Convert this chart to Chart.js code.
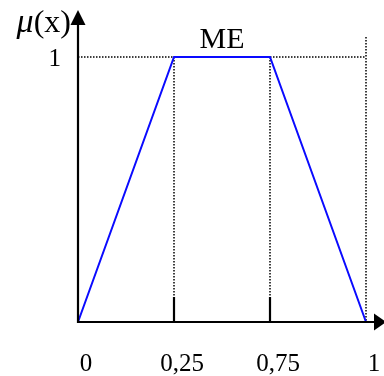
<!DOCTYPE html>
<html>
<head>
<meta charset="utf-8">
<script src="https://cdn.jsdelivr.net/npm/chart.js@4"></script>
<style>
  html, body { margin: 0; padding: 0; background: #ffffff; }
  #wrap { width: 384px; height: 376px; position: relative; }
</style>
</head>
<body>
<div id="wrap"><canvas id="c" width="384" height="376"></canvas></div>
<script>
// Trapezoidal membership function "ME"
const categories = ['0', '0,25', '0,75', '1'];
const membership = [0, 1, 1, 0];
const yTickLabels = ['1'];
const setName = 'ME';

const SERIF = '"Liberation Serif", "Times New Roman", serif';

const decor = {
  id: 'decor',
  beforeDatasetsDraw(chart) {
    const ctx = chart.ctx;
    const xs = chart.scales.x, ys = chart.scales.y;
    const x0 = xs.getPixelForValue(0);
    const xEnd = xs.getPixelForValue(categories.length - 1);
    const yOne = ys.getPixelForValue(1);
    const yZero = ys.getPixelForValue(0);
    ctx.save();
    ctx.strokeStyle = '#000';
    ctx.lineWidth = 1.5;
    ctx.setLineDash([1.5, 1.5]);
    // horizontal guide at μ = 1
    ctx.beginPath();
    ctx.moveTo(x0, yOne);
    ctx.lineTo(xEnd, yOne);
    ctx.stroke();
    // vertical guides at the plateau corners
    for (let i = 1; i < categories.length - 1; i++) {
      const px = xs.getPixelForValue(i);
      ctx.beginPath();
      ctx.moveTo(px, yOne);
      ctx.lineTo(px, yZero - 25);
      ctx.stroke();
    }
    // vertical guide at the right end
    ctx.beginPath();
    ctx.moveTo(xEnd, yOne - 20);
    ctx.lineTo(xEnd, yZero);
    ctx.stroke();
    ctx.restore();
  },
  afterDatasetsDraw(chart) {
    const ctx = chart.ctx;
    const xs = chart.scales.x, ys = chart.scales.y;
    const x0 = xs.getPixelForValue(0);
    const yZero = ys.getPixelForValue(0);
    const yOne = ys.getPixelForValue(1);
    ctx.save();
    ctx.strokeStyle = '#000';
    ctx.fillStyle = '#000';
    ctx.lineWidth = 2.2;
    ctx.setLineDash([]);
    // y axis with arrow
    ctx.beginPath();
    ctx.moveTo(x0, yZero + 1);
    ctx.lineTo(x0, 22);
    ctx.stroke();
    ctx.beginPath();
    ctx.moveTo(x0, 10);
    ctx.lineTo(x0 - 7.5, 25);
    ctx.lineTo(x0 + 7.5, 25);
    ctx.closePath();
    ctx.fill();
    // x axis with arrow
    ctx.beginPath();
    ctx.moveTo(x0 - 1, yZero);
    ctx.lineTo(376, yZero);
    ctx.stroke();
    ctx.beginPath();
    ctx.moveTo(386, yZero);
    ctx.lineTo(374, yZero - 8.5);
    ctx.lineTo(374, yZero + 8.5);
    ctx.closePath();
    ctx.fill();
    // tick marks at the plateau corners
    for (let i = 1; i < categories.length - 1; i++) {
      const px = xs.getPixelForValue(i);
      ctx.beginPath();
      ctx.moveTo(px, yZero);
      ctx.lineTo(px, yZero - 25);
      ctx.stroke();
    }
    // x tick labels
    ctx.font = '25px ' + SERIF;
    ctx.textAlign = 'center';
    ctx.textBaseline = 'alphabetic';
    categories.forEach((lab, i) => {
      ctx.fillText(lab, xs.getPixelForValue(i) + 8, 371);
    });
    // y tick label
    ctx.textAlign = 'right';
    ctx.fillText(yTickLabels[0], 61, yOne + 9);
    // axis title μ(x)
    ctx.font = '32px ' + SERIF;
    const rest = '(x)';
    const wRest = ctx.measureText(rest).width;
    ctx.fillText(rest, 71, 32);
    ctx.font = 'italic 34px ' + SERIF;
    ctx.fillText('\u03bc', 71 - wRest, 32);
    // set name above plateau
    ctx.font = '30px ' + SERIF;
    ctx.textAlign = 'center';
    const mid = (xs.getPixelForValue(1) + xs.getPixelForValue(2)) / 2;
    ctx.fillText(setName, mid, 48);
    ctx.restore();
  }
};

new Chart(document.getElementById('c'), {
  type: 'line',
  data: {
    labels: categories,
    datasets: [{
      data: membership,
      borderColor: '#0a0aff',
      borderWidth: 2,
      pointRadius: 0,
      tension: 0,
      fill: false,
      clip: false
    }]
  },
  options: {
    responsive: false,
    animation: false,
    devicePixelRatio: 1,
    layout: { padding: { left: 78, right: 18, top: 57, bottom: 54 } },
    plugins: { legend: { display: false }, tooltip: { enabled: false } },
    scales: {
      x: { type: 'category', display: false, offset: false },
      y: { display: false, min: 0, max: 1 }
    }
  },
  plugins: [decor]
});
</script>
</body>
</html>
